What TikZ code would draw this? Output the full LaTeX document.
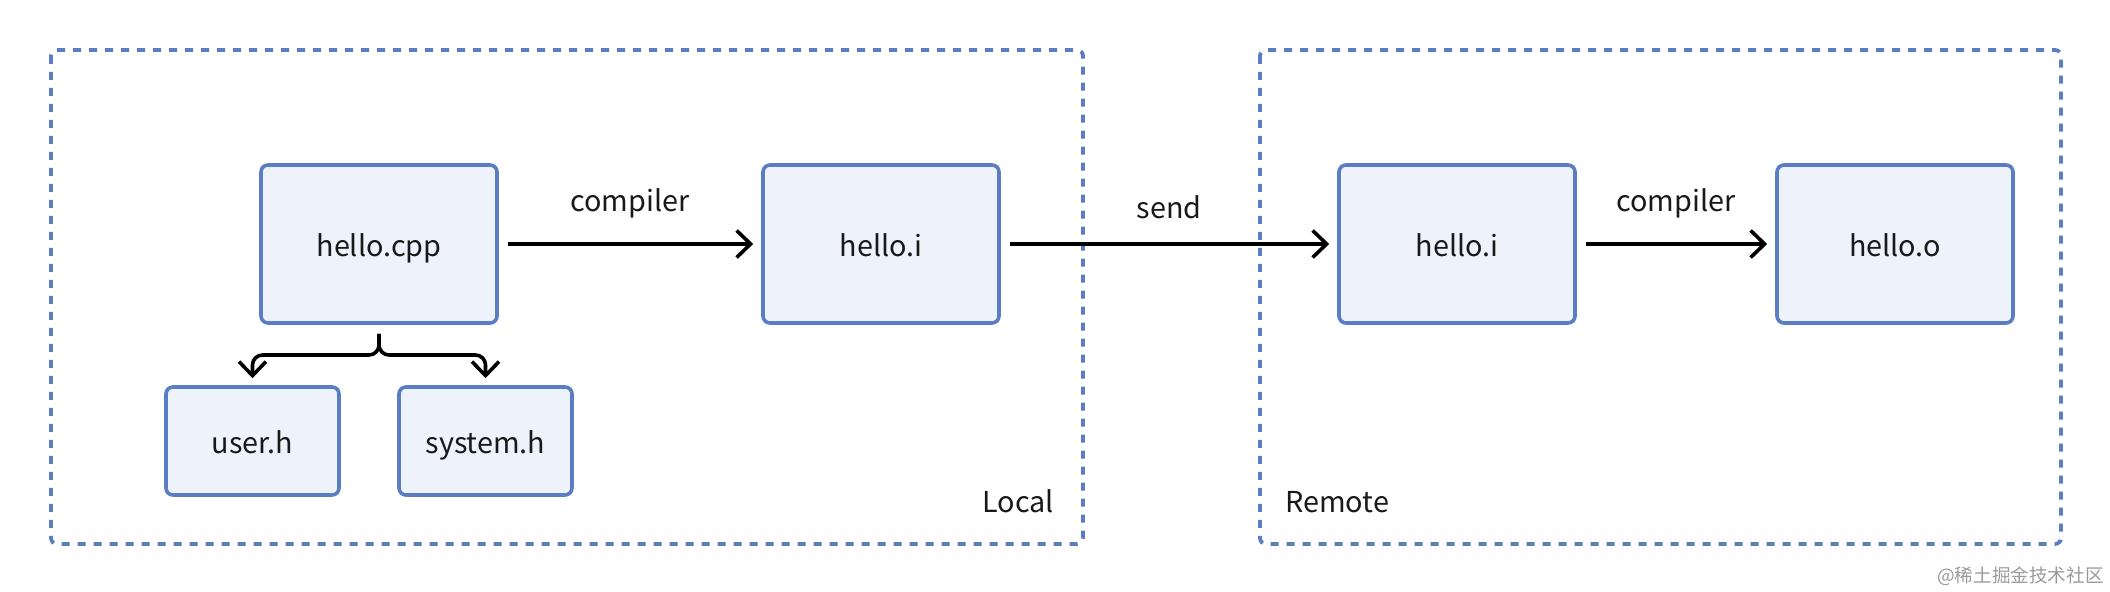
\documentclass[tikz,border=0pt]{standalone}
\usepackage{fontspec}
\setmainfont{Noto Sans CJK SC}
\usetikzlibrary{arrows.meta}
\definecolor{boxblue}{HTML}{5A7DC6}
\definecolor{boxfill}{HTML}{EEF2FA}
\definecolor{credit}{HTML}{9A9A9A}

\begin{document}
\begin{tikzpicture}[x=0.5pt,y=-0.5pt,
    font=\fontsize{14.4}{17}\selectfont, text=black!90,
    file/.style={draw=boxblue, fill=boxfill, line width=1.8pt, rounded corners=3.5pt,
        minimum width=118pt, minimum height=79pt, inner sep=0pt,
        text height=13pt, text depth=0pt},
    header/.style={file, minimum width=86.5pt, minimum height=54pt},
    area/.style={draw=boxblue, line width=1.9pt, dash pattern=on 4pt off 4pt, rounded corners=3pt},
    flow/.style={line width=1.8pt, -{Straight Barb[length=7pt,width=13.5pt]},
        shorten <=4.5pt, shorten >=4pt},
    step label/.style={above=8.5pt}]
    \useasboundingbox (0,0) rectangle (2110,592);

    % the two machines
    \draw[area] (51,50) rectangle (1083,544);
    \draw[area] (1260,50) rectangle (2061,544);
    \node[anchor=base] (local) at (1018,513) {Local};
    \node[anchor=base] (remote) at (1337,513) {Remote};

    % files
    \node[file] (cpp) at (379,244) {hello.cpp};
    \node[file] (ilocal) at (881,244) {hello.i};
    \node[header] (user) at (252.5,441) {user.h};
    \node[header] (system) at (485.5,441) {system.h};
    \node[file] (iremote) at (1457,244) {hello.i};
    \node[file] (obj) at (1895,244) {hello.o};

    % steps
    \draw[flow] (cpp) -- node[step label] {compiler} (ilocal);
    \draw[flow] (ilocal) -- node[step label] {send} (iremote);
    \draw[flow] (iremote) -- node[step label] {compiler} (obj);

    % includes
    \coordinate (fork) at (379,355);
    \draw[flow, rounded corners=5pt, shorten >=3.5pt] (cpp.south) -- (fork) -| (user.north);
    \draw[flow, rounded corners=5pt, shorten >=3.5pt] (cpp.south) -- (fork) -| (system.north);

    \node[anchor=east, inner sep=0pt, text=credit, font=\fontsize{9.3}{11}\selectfont] (credit) at (2104,576) {@稀土掘金技术社区};
\end{tikzpicture}
\end{document}
